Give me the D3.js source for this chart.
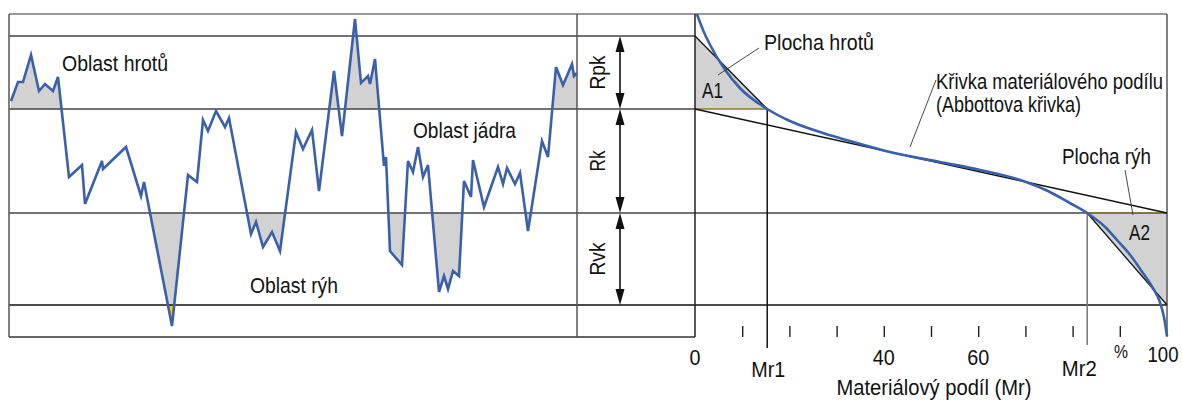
<!DOCTYPE html>
<html>
<head>
<meta charset="utf-8">
<script src="https://cdn.jsdelivr.net/npm/d3@7"></script>
<style>
  body { margin: 0; background: #fff; }
  svg { display: block; }
  text { font-family: "Liberation Sans", Arial, sans-serif; font-size: 22px; fill: #111; }
</style>
</head>
<body>
<svg id="chart" width="1182" height="400"></svg>
<script>
// profile: position along the sample, height above the bottom frame
const profX = [2, 9, 14, 22, 30, 36, 44, 49, 60, 73, 76, 93, 94, 117, 132, 135, 163, 179, 188,
  194, 199, 207, 216, 220, 242, 247, 254, 263, 271, 287, 294, 303, 310, 325, 333, 346, 352,
  359, 361, 366, 375, 377, 381, 393, 399, 404, 409, 414, 419, 430, 435, 439, 444, 450, 455,
  462, 464, 475, 489, 494, 498, 506, 511, 519, 533, 539, 547, 554, 563, 565, 568];
const profH = [236, 255, 255, 282, 246, 253, 246, 260, 160, 172, 133, 176, 168, 190, 141, 155, 11, 162, 155,
  217, 206, 226, 210, 219, 103, 115, 90, 105, 86, 205, 188, 207, 146, 266, 201, 318, 254,
  261, 253, 278, 171, 180, 86, 72, 176, 165, 190, 160, 172, 45, 61, 48, 66, 61, 156,
  140, 177, 130, 170, 153, 169, 153, 164, 106, 196, 180, 270, 252, 273, 261, 264];

// reference levels (same height units)
const frameTop = 323;
const levelPeak = 301;   // top of Rpk
const levelCoreTop = 228;
const levelCoreBottom = 124;
const levelValley = 32;  // bottom of Rvk
const bandNames = ["Rpk", "Rk", "Rvk"];

// Abbott curve: material ratio in %, height
const abbottMr = [0.4, 1.7, 3.2, 6.4, 9.5, 15.3, 20.1, 27.1, 34.3, 41.3, 51.9, 60.4, 68.9, 75.2,
  79.4, 83.1, 86.9, 89.4, 92.2, 94.9, 97.0, 98.5, 99.4, 100];
const abbottH = [323, 307, 292, 267, 249, 228, 216, 204, 194, 185, 175, 167, 157, 145,
  134, 124, 110, 97, 82, 64, 49, 35, 19, 1];
const mr1 = 15.3;
const mr2 = 83.1;

const minorTicks = [10, 20, 30, 40, 50, 60, 70, 80, 90];
const tickLabels = ["0", "40", "60", "100"];
const tickLabelValues = [0, 40, 60, 100];

const svg = d3.select("#chart");

const y = d3.scaleLinear().domain([0, frameTop]).range([337, 14]);
const xP = d3.scaleLinear().domain([0, 568]).range([9, 577]);
const xM = d3.scaleLinear().domain([0, 100]).range([695, 1167]);

const profile = profX.map((x, i) => ({ x: x, h: profH[i] }));
const abbott = abbottMr.map((m, i) => ({ m: m, h: abbottH[i] }));

const defs = svg.append("defs");
function clip(id, y0, y1) {
  defs.append("clipPath").attr("id", id)
    .append("rect").attr("x", xP(0)).attr("width", xP(568) - xP(0))
    .attr("y", y0).attr("height", y1 - y0);
}
clip("cPeak", y(frameTop), y(levelCoreTop));
clip("cValley", y(levelCoreBottom), y(0));
clip("cDeep", y(levelValley), y(0));

const areaTo = (lvl) => d3.area().x(d => xP(d.x)).y0(y(lvl)).y1(d => y(d.h));

// masks so the olive edge only shows under shaded parts
function mask(id, lvl, clipId) {
  defs.append("mask").attr("id", id).append("path").datum(profile)
    .attr("d", areaTo(lvl)).attr("clip-path", "url(#" + clipId + ")").attr("fill", "#fff");
}
mask("mPeak", levelCoreTop, "cPeak");
mask("mValley", levelCoreBottom, "cValley");

// shaded regions of the profile
svg.append("path").datum(profile).attr("d", areaTo(levelCoreTop))
  .attr("clip-path", "url(#cPeak)").attr("fill", "#d2d2d2");
svg.append("path").datum(profile).attr("d", areaTo(levelCoreBottom))
  .attr("clip-path", "url(#cValley)").attr("fill", "#d2d2d2");
svg.append("path").datum(profile).attr("d", areaTo(levelValley))
  .attr("clip-path", "url(#cDeep)").attr("fill", "#f2cc00");

// A1 and A2 triangles
const tri = d3.line().x(d => xM(d[0])).y(d => y(d[1]));
svg.append("path").attr("d", tri([[0, levelPeak], [mr1, levelCoreTop], [0, levelCoreTop]]) + "Z")
  .attr("fill", "#d2d2d2");
svg.append("path").attr("d", tri([[mr2, levelCoreBottom], [100, levelCoreBottom], [100, levelValley]]) + "Z")
  .attr("fill", "#d2d2d2");

// frame and level lines
const hLines = [
  { h: frameTop, x0: xP(0), x1: xM(100), c: "#777" },
  { h: levelPeak, x0: xP(0), x1: xM(0), c: "#444" },
  { h: levelCoreTop, x0: xP(0), x1: xM(0), c: "#444" },
  { h: levelCoreBottom, x0: xP(0), x1: xM(100), c: "#444" },
  { h: levelValley, x0: xP(0), x1: xM(100), c: "#111" },
  { h: 0, x0: xP(0), x1: xM(0), c: "#333" }
];
svg.selectAll(".hl").data(hLines).join("line")
  .attr("x1", d => d.x0).attr("x2", d => d.x1)
  .attr("y1", d => y(d.h)).attr("y2", d => y(d.h))
  .attr("stroke", d => d.c).attr("stroke-width", 1.5);

const vLines = [
  { x: xP(0), c: "#555" },
  { x: xP(568), c: "#555" },
  { x: xM(0), c: "#222" },
  { x: xM(100), c: "#555" }
];
svg.selectAll(".vl").data(vLines).join("line")
  .attr("x1", d => d.x).attr("x2", d => d.x)
  .attr("y1", y(frameTop)).attr("y2", y(0))
  .attr("stroke", d => d.c).attr("stroke-width", 1.5);

// olive edge where the shading meets a level line
svg.append("line").attr("x1", xP(0)).attr("x2", xP(568))
  .attr("y1", y(levelCoreTop)).attr("y2", y(levelCoreTop))
  .attr("mask", "url(#mPeak)").attr("stroke", "#8a7a30").attr("stroke-width", 1.6);
svg.append("line").attr("x1", xP(0)).attr("x2", xP(568))
  .attr("y1", y(levelCoreBottom)).attr("y2", y(levelCoreBottom))
  .attr("mask", "url(#mValley)").attr("stroke", "#8a7a30").attr("stroke-width", 1.6);
svg.append("line").attr("x1", xM(0)).attr("x2", xM(mr1))
  .attr("y1", y(levelCoreTop)).attr("y2", y(levelCoreTop))
  .attr("stroke", "#8a7a30").attr("stroke-width", 1.3);
svg.append("line").attr("x1", xM(mr2)).attr("x2", xM(100))
  .attr("y1", y(levelCoreBottom)).attr("y2", y(levelCoreBottom))
  .attr("stroke", "#8a7a30").attr("stroke-width", 1.3);

// Mr1, Mr2 verticals
svg.append("line").attr("x1", xM(mr1)).attr("x2", xM(mr1))
  .attr("y1", y(levelCoreTop)).attr("y2", y(0) + 11)
  .attr("stroke", "#111").attr("stroke-width", 1.5);
svg.append("line").attr("x1", xM(mr2)).attr("x2", xM(mr2))
  .attr("y1", y(levelCoreBottom)).attr("y2", y(0) + 8)
  .attr("stroke", "#777").attr("stroke-width", 1.5);

// secant and triangle hypotenuses
const seg = (a, b, w) => svg.append("line")
  .attr("x1", xM(a[0])).attr("y1", y(a[1])).attr("x2", xM(b[0])).attr("y2", y(b[1]))
  .attr("stroke", "#111").attr("stroke-width", w);
seg([0, levelCoreTop], [100, levelCoreBottom], 1.4);
seg([0, levelPeak], [mr1, levelCoreTop], 1.3);
seg([mr2, levelCoreBottom], [100, levelValley], 1.3);

// material ratio axis (ticks only)
const axis = d3.axisTop(xM).tickValues(minorTicks).tickSize(11).tickFormat("");
const gAxis = svg.append("g").attr("transform", `translate(0,${y(0)})`).call(axis);
gAxis.select(".domain").remove();
gAxis.selectAll(".tick line").attr("stroke", "#222").attr("stroke-width", 1.4);

// text helper: squeeze to the narrow lettering of the original
function label(t, x, yy, w, anchor) {
  return svg.append("text").attr("x", x).attr("y", yy)
    .attr("text-anchor", anchor || "start")
    .attr("textLength", w).attr("lengthAdjust", "spacingAndGlyphs").text(t);
}

const tickW = { "0": 11, "40": 22, "60": 22, "100": 31 };
tickLabels.forEach((t, i) => {
  label(t, xM(tickLabelValues[i]) - (t === "100" ? 4 : 0), t === "100" ? 362 : 365, tickW[t], "middle");
});
label("%", 1121, 358, 14, "middle").style("font-size", "18px");
label("Mr1", xM(mr1) + 1, 377, 34, "middle");
label("Mr2", xM(mr2) - 8, 376, 35, "middle");
label("Materiálový podíl (Mr)", 934, 395, 195, "middle");

// the profile and the Abbott curve
svg.append("path").datum(profile)
  .attr("d", d3.line().x(d => xP(d.x)).y(d => y(d.h)))
  .attr("fill", "none").attr("stroke", "#3a60aa").attr("stroke-width", 2.6)
  .attr("stroke-linejoin", "miter");
svg.append("path").datum(abbott)
  .attr("d", d3.line().x(d => xM(d.m)).y(d => y(d.h)).curve(d3.curveMonotoneX))
  .attr("fill", "none").attr("stroke", "#3a60aa").attr("stroke-width", 2.6);

// band arrows Rpk / Rk / Rvk
const bandEdges = [levelPeak, levelCoreTop, levelCoreBottom, levelValley];
const bandW = [34, 21, 33];
const ax = 620;
bandNames.forEach((name, i) => {
  const yt = y(bandEdges[i]), yb = y(bandEdges[i + 1]);
  svg.append("line").attr("x1", ax).attr("x2", ax).attr("y1", yt + 10).attr("y2", yb - 10)
    .attr("stroke", "#111").attr("stroke-width", 1.6);
  svg.append("path").attr("d", `M${ax},${yt} l-4.5,16 l9,0 Z`).attr("fill", "#111");
  svg.append("path").attr("d", `M${ax},${yb} l-4.5,-16 l9,0 Z`).attr("fill", "#111");
  svg.append("text").attr("transform", `translate(605,${(yt + yb) / 2}) rotate(-90)`)
    .attr("text-anchor", "middle").attr("textLength", bandW[i])
    .attr("lengthAdjust", "spacingAndGlyphs").text(name);
});

// area labels
label("Oblast hrotů", 62, 71, 106);
label("Oblast jádra", 413, 138, 103);
label("Oblast rýh", 250, 293, 88);
label("Plocha hrotů", 764, 50, 110);
label("A1", 702, 98, 21);
label("Křivka materiálového podílu", 936, 89, 227);
label("(Abbottova křivka)", 936, 112, 145);
label("Plocha rýh", 1062, 164, 89);
label("A2", 1129, 240, 21);

const leader = (x1, y1, x2, y2) => svg.append("line")
  .attr("x1", x1).attr("y1", y1).attr("x2", x2).attr("y2", y2)
  .attr("stroke", "#333").attr("stroke-width", 0.9);
leader(759, 48, 718, 75);
leader(936, 80, 910, 147);
leader(1125, 170, 1133, 215);
</script>
</body>
</html>
